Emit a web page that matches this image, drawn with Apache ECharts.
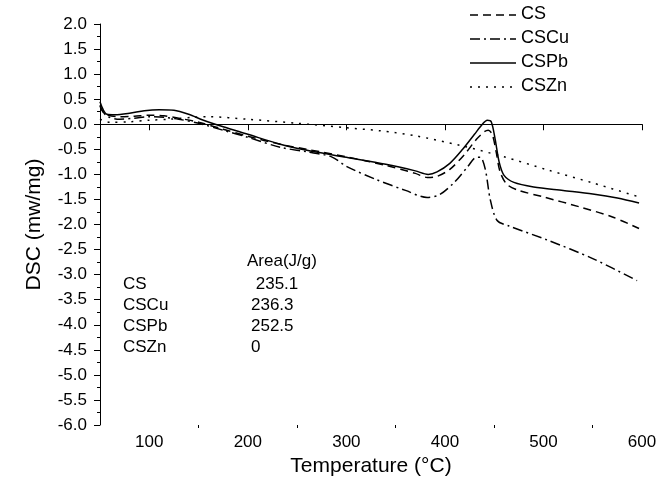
<!DOCTYPE html>
<html>
<head>
<meta charset="utf-8">
<script src="https://cdn.jsdelivr.net/npm/echarts@6/dist/echarts.min.js"></script>
<style>html,body{margin:0;padding:0;background:#fff}#c{width:670px;height:487px}</style>
</head>
<body>
<div id="c"></div>
<script>
var seriesNames = ['CS', 'CSCu', 'CSPb', 'CSZn'];
var xTickLabels = [100, 200, 300, 400, 500, 600];
var xMinorTicks = [150, 250, 350, 450, 550];
var areaHeader = 'Area(J/g)';
var areaNames = ['CS', 'CSCu', 'CSPb', 'CSZn'];
var areaValues = [' 235.1', '236.3', '252.5', '0'];

var csData = [[50,0.38],[53,0.25],[58,0.18],[70,0.15],[85,0.16],[100,0.18],[115,0.17],[130,0.12],[150,0.04],[175,-0.1],[200,-0.24],[233,-0.4],[260,-0.5],[300,-0.65],[340,-0.82],[370,-0.98],[382,-1.06],[392,-1.04],[405,-0.9],[420,-0.6],[432,-0.3],[440,-0.15],[444,-0.12],[448,-0.2],[452,-0.55],[456,-0.95],[463,-1.2],[475,-1.32],[500,-1.45],[537,-1.65],[570,-1.85],[597,-2.08]];
var cscuData = [[50,0.36],[53,0.25],[58,0.15],[70,0.1],[85,0.12],[100,0.15],[115,0.14],[130,0.1],[150,0.02],[175,-0.12],[200,-0.26],[233,-0.46],[260,-0.55],[285,-0.65],[301,-0.85],[330,-1.1],[360,-1.32],[382,-1.46],[395,-1.4],[410,-1.15],[423,-0.85],[432,-0.66],[436,-0.66],[441,-0.9],[446,-1.5],[453,-1.92],[465,-2.03],[504,-2.31],[550,-2.68],[595,-3.12]];
var cspbData = [[50,0.45],[53,0.3],[57,0.2],[65,0.19],[80,0.22],[95,0.27],[110,0.29],[125,0.28],[140,0.2],[155,0.08],[175,-0.05],[200,-0.2],[233,-0.4],[260,-0.52],[300,-0.66],[340,-0.8],[370,-0.93],[383,-1.0],[392,-0.95],[405,-0.78],[418,-0.5],[430,-0.2],[438,0.0],[443,0.08],[447,0.05],[451,-0.3],[455,-0.75],[460,-1.02],[470,-1.16],[490,-1.25],[520,-1.32],[550,-1.39],[575,-1.47],[597,-1.57]];
var csznData = [[50,0.1],[60,0.04],[80,0.05],[100,0.08],[120,0.1],[145,0.14],[160,0.15],[200,0.1],[250,0.02],[300,-0.07],[334,-0.13],[370,-0.23],[415,-0.42],[460,-0.65],[504,-0.91],[550,-1.17],[597,-1.45]];

var font = 'Liberation Sans, Arial, sans-serif';
var dashes = [[8, 5], [10, 4, 2, 4], null, [2, 6]];
var chart = echarts.init(document.getElementById('c'), null, {renderer: 'canvas'});

function mk(name, data, type) {
  return {
    name: name, type: 'line', data: data, smooth: 0.3, symbol: 'none',
    lineStyle: {color: '#000', width: 1.5, type: type},
    itemStyle: {color: '#000'}
  };
}

var gfx = [];
gfx.push({type: 'text', left: 247, top: 253, style: {text: areaHeader, font: '17px ' + font, fill: '#000'}});
for (var i = 0; i < areaNames.length; i++) {
  gfx.push({type: 'text', left: 123, top: 276 + i * 21, style: {text: areaNames[i], font: '17px ' + font, fill: '#000'}});
  gfx.push({type: 'text', left: 251, top: 276 + i * 21, style: {text: areaValues[i], font: '17px ' + font, fill: '#000'}});
}
// legend (drawn as graphic to match the plain line keys)
for (var j = 0; j < seriesNames.length; j++) {
  var yy = 15 + j * 24;
  var st = {stroke: '#000', lineWidth: 1.5};
  if (dashes[j]) st.lineDash = dashes[j];
  gfx.push({type: 'line', shape: {x1: 470, y1: yy, x2: 516, y2: yy}, style: st});
  gfx.push({type: 'text', left: 521, top: yy - 10, style: {text: seriesNames[j], font: '18px ' + font, fill: '#000'}});
}

chart.setOption({
  animation: false,
  backgroundColor: '#fff',
  textStyle: {fontFamily: font},
  grid: {left: 100, right: 28, top: 24, bottom: 62, containLabel: false},
  xAxis: [{
    type: 'value', min: 50, max: 600,
    name: 'Temperature (\u00B0C)', nameLocation: 'middle', nameGap: 30,
    nameTextStyle: {fontSize: 21, color: '#000', fontFamily: font},
    axisLine: {show: true, lineStyle: {color: '#000', width: 1}},
    axisTick: {show: true, length: 6, inside: false, customValues: xTickLabels, lineStyle: {color: '#000'}},
    axisLabel: {customValues: xTickLabels, fontSize: 17, color: '#000', margin: 9, fontFamily: font},
    splitLine: {show: false}
  }, {
    type: 'value', min: 50, max: 600, position: 'bottom',
    axisLine: {show: false},
    axisTick: {show: true, length: 3, customValues: xMinorTicks, lineStyle: {color: '#000'}},
    axisLabel: {show: false},
    splitLine: {show: false}
  }],
  yAxis: {
    type: 'value', min: -6, max: 2, interval: 0.5,
    name: 'DSC (mw/mg)', nameLocation: 'middle', nameGap: 55, nameRotate: 90,
    nameTextStyle: {fontSize: 21, color: '#000', fontFamily: font},
    axisLine: {show: true, lineStyle: {color: '#000', width: 1}},
    axisTick: {show: true, length: 6, lineStyle: {color: '#000'}},
    minorTick: {show: true, splitNumber: 2, length: 3, lineStyle: {color: '#000'}},
    axisLabel: {fontSize: 17, color: '#000', margin: 13, fontFamily: font, formatter: function (v) { return v.toFixed(1); }},
    splitLine: {show: false}
  },
  series: [
    mk('CS', csData, dashes[0]),
    mk('CSCu', cscuData, dashes[1]),
    mk('CSPb', cspbData, 'solid'),
    mk('CSZn', csznData, dashes[3])
  ],
  graphic: gfx
});
</script>
</body>
</html>
